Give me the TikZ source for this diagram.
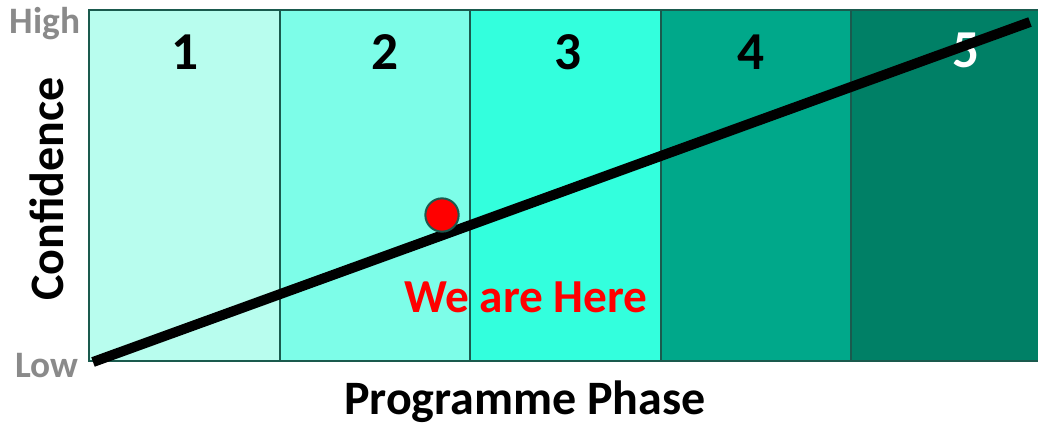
\documentclass[tikz,border=0pt]{standalone}
\usepackage{fontspec}
\setmainfont{Carlito}
\definecolor{phaseA}{HTML}{B8FDEE}
\definecolor{phaseB}{HTML}{7DFDE8}
\definecolor{phaseC}{HTML}{33FFDD}
\definecolor{phaseD}{HTML}{00A88A}
\definecolor{phaseE}{HTML}{008066}
\definecolor{edge}{HTML}{1A5A4E}
\definecolor{scale}{HTML}{8A8A8A}
\tikzset{
  phasebox/.style={draw=edge, line width=1.5pt},
  num/.style={font=\bfseries\fontsize{40}{42}\selectfont},
  axislabel/.style={font=\bfseries\fontsize{36}{38}\selectfont},
  endlabel/.style={text=scale, font=\bfseries\fontsize{28}{30}\selectfont}
}
\begin{document}
\begin{tikzpicture}[x=0.75pt,y=-0.75pt]
\useasboundingbox (0,0) rectangle (1038,428);
\filldraw[phasebox, fill=phaseA] (89,10) rectangle (279.5,361);
\filldraw[phasebox, fill=phaseB] (279.5,10) rectangle (470,361);
\filldraw[phasebox, fill=phaseC] (470,10) rectangle (661,361);
\filldraw[phasebox, fill=phaseD] (661,10) rectangle (851,361);
\filldraw[phasebox, fill=phaseE] (851,10) rectangle (1042,361);
\node[num] (n1) at (185,52) {1};
\node[num] (n2) at (385,52) {2};
\node[num] (n3) at (568,52) {3};
\node[num] (n4) at (751,52) {4};
\node[num, text=white] (n5) at (966,50) {5};
\coordinate (low) at (93,362);
\coordinate (high) at (1030,22);
\draw[line width=7.5pt] (low) -- (high);
\node[circle, fill=red, draw=edge, line width=1.5pt, minimum size=25pt, inner sep=0pt] (here) at (442,215) {};
\node[text=red, font=\bfseries\fontsize{35.5}{38}\selectfont] (herelabel) at (526,297) {We are Here};
\node[endlabel] (high label) at (45,24) {High};
\node[endlabel] (low label) at (47,366) {Low};
\node[axislabel, rotate=90] (conf) at (47,189) {Confidence};
\node[axislabel, inner sep=0pt] (phase) at (525,402) {Programme Phase};
\end{tikzpicture}
\end{document}
